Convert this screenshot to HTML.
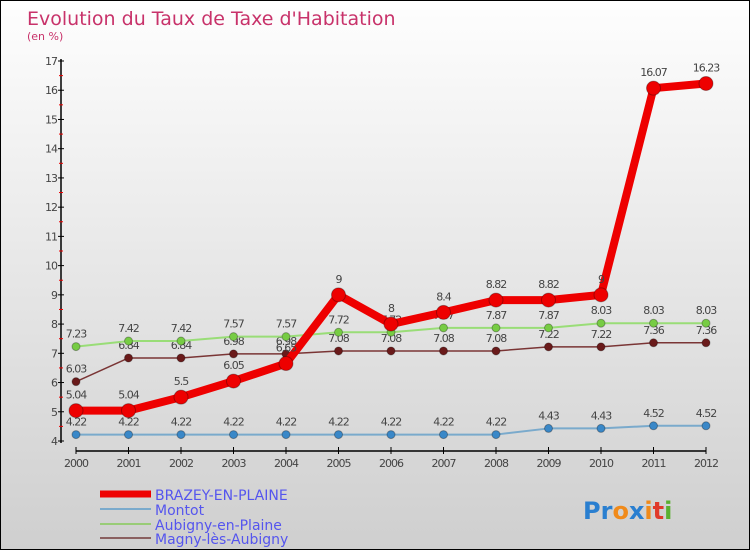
<!DOCTYPE html>
<html><head><meta charset="utf-8"><style>
body{margin:0}
#c{width:750px;height:550px;position:relative;box-sizing:border-box;border:1px solid #000;background:linear-gradient(#fefefe,#cfcfcf);font-family:"DejaVu Sans","Liberation Sans",sans-serif;overflow:hidden}
text{font-family:"DejaVu Sans","Liberation Sans",sans-serif}
</style></head><body>
<div id="c">
<svg id="s" width="750" height="550">
<text x="26" y="24" font-size="19" fill="#c8326a">Evolution du Taux de Taxe d'Habitation</text>
<text x="26" y="39" font-size="11" fill="#c8326a">(en %)</text>
<g id="axes"></g><g id="series"></g>
<g>
<line x1="99" y1="493" x2="150" y2="493" stroke="#ee0000" stroke-width="7"/>
<text x="154" y="499" font-size="14" fill="#5555ee">BRAZEY-EN-PLAINE</text>
<line x1="99" y1="508" x2="150" y2="508" stroke="#7aaacc" stroke-width="2"/>
<text x="154" y="514" font-size="14" fill="#5555ee">Montot</text>
<line x1="99" y1="523" x2="150" y2="523" stroke="#99cc77" stroke-width="2"/>
<text x="154" y="529" font-size="14" fill="#5555ee">Aubigny-en-Plaine</text>
<line x1="99" y1="537" x2="150" y2="537" stroke="#8a6060" stroke-width="2"/>
<text x="154" y="543" font-size="14" fill="#5555ee">Magny-lès-Aubigny</text>
</g>
<text x="582" y="518" font-size="24" font-weight="bold"><tspan fill="#2a7fd0">Pr</tspan><tspan fill="#f08a1a">o</tspan><tspan fill="#2a7fd0">x</tspan><tspan fill="#f08a1a">i</tspan><tspan fill="#e03a2a">t</tspan><tspan fill="#5ab030">i</tspan></text>
</svg></div>
<script>
const years=[2000,2001,2002,2003,2004,2005,2006,2007,2008,2009,2010,2011,2012];
const brazey=[5.04,5.04,5.5,6.05,6.65,9,8,8.4,8.82,8.82,9,16.07,16.23];
const montot=[4.22,4.22,4.22,4.22,4.22,4.22,4.22,4.22,4.22,4.43,4.43,4.52,4.52];
const aubigny=[7.23,7.42,7.42,7.57,7.57,7.72,7.72,7.87,7.87,7.87,8.03,8.03,8.03];
const magny=[6.03,6.84,6.84,6.98,6.98,7.08,7.08,7.08,7.08,7.22,7.22,7.36,7.36];
const yTicks=[4,5,6,7,8,9,10,11,12,13,14,15,16,17];
const NS='http://www.w3.org/2000/svg';
const X=i=>75+i*52.5, Y=v=>440-(v-4)*(380/13);
function mk(t,a,p){const e=document.createElementNS(NS,t);for(const k in a)e.setAttribute(k,a[k]);p.appendChild(e);return e;}
const ax=document.getElementById('axes'), sg=document.getElementById('series');
let l=mk('line',{x1:60,y1:58,x2:60,y2:442,stroke:'#000','stroke-width':1.5},ax);


l=mk('line',{x1:75,y1:450,x2:705,y2:450,stroke:'#000','stroke-width':1.5},ax);


yTicks.forEach(v=>{mk('line',{x1:57,y1:Y(v),x2:63,y2:Y(v),stroke:'#000'},ax);
 if(v<17)mk('line',{x1:58,y1:Y(v+0.5),x2:62,y2:Y(v+0.5),stroke:'#e00'},ax);
 const t=mk('text',{x:56,y:Y(v)+4,'font-size':11,fill:'#444','text-anchor':'end','letter-spacing':'-1'},ax);t.textContent=v;
 
 });
years.forEach((y,i)=>{mk('line',{x1:X(i),y1:446,x2:X(i),y2:453,stroke:'#000'},ax);
 const t=mk('text',{x:X(i),y:466,'font-size':11,fill:'#444','text-anchor':'middle','letter-spacing':'-1'},ax);t.textContent=y;
 
 });
function series(d,col,w,r,name,stroke){
 const g=mk('g',{},sg);
 
 
 mk('polyline',{points:d.map((v,i)=>X(i)+','+Y(v)).join(' '),fill:'none',stroke:col,'stroke-width':w,'stroke-linejoin':'round'},g);
 d.forEach((v,i)=>{const c=mk('circle',{cx:X(i),cy:Y(v),r:r,fill:stroke,stroke:'rgba(0,0,0,0.3)'},g);
  
  
  const t=mk('text',{x:X(i),y:Y(v)-r-5,'font-size':11,fill:'#444','text-anchor':'middle','letter-spacing':'-1'},g);t.textContent=v;});
}
series(montot,'#7aaacc',2,4,'series-montot','#3a88c8');
series(magny,'#7a3535',1.5,4,'series-magny','#6a1a1a');
series(aubigny,'#99dd77',2,4,'series-aubigny','#77cc44');
series(brazey,'#ee0000',8,7,'series-brazey','#ee0000');
</script>
</body></html>
